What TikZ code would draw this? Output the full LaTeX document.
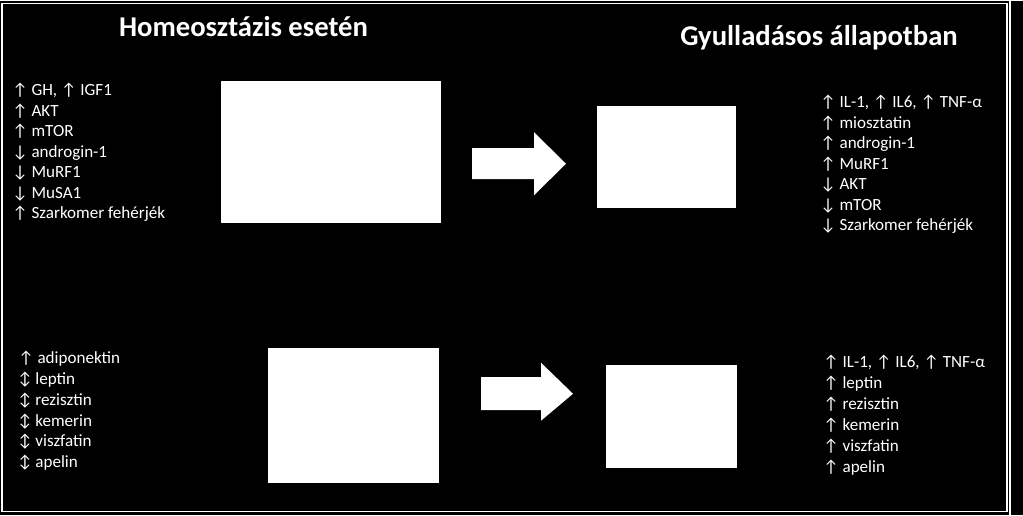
\documentclass[tikz,border=0pt]{standalone}
\usepackage{fontspec}
\setmainfont{Carlito}
\usetikzlibrary{positioning}

\begin{document}
\begin{tikzpicture}[x=0.75pt,y=-0.75pt,
  cim/.style={font=\fontsize{21.5}{24}\selectfont\bfseries,text=white,inner sep=0pt,anchor=base},
  sor/.style={font=\fontsize{12.8}{15}\selectfont,text=white,inner sep=0pt,anchor=base west},
  doboz/.style={fill=white,draw=none,inner sep=0pt},
  keret/.style={draw=white,line width=1.1pt}]
% background and frame
\fill[black] (0,0) rectangle (1023,514);
\draw[keret] (2,3) rectangle (1007,511);
\draw[keret] (1010,0) -- (1010,514);
% titles
\node[cim] (cim1) at (243.5,36) {Homeosztázis esetén};
\node[cim] (cim2) at (819,45) {Gyulladásos állapotban};
% picture placeholders
\node[doboz,minimum width=165pt,minimum height=106.5pt] (kep1) at (331,151) {};
\node[doboz,minimum width=104.25pt,minimum height=76.5pt] (kep2) at (666.5,156) {};
\node[doboz,minimum width=128.25pt,minimum height=101.25pt] (kep3) at (353.5,414.5) {};
\node[doboz,minimum width=98.25pt,minimum height=77.25pt] (kep4) at (671.5,415.5) {};
% block arrows
\fill[white] (472,147.5) -- (534,147.5) -- (534,131.5) -- (566,163) -- (534,194.5) -- (534,178.5) -- (472,178.5) -- cycle;
\fill[white] (481,376.5) -- (541,376.5) -- (541,362) -- (573,393) -- (541,420) -- (541,409.5) -- (481,409.5) -- cycle;
% lists
\foreach \t [count=\i] in {{↑ GH, ↑ IGF1},↑ AKT,↑ mTOR,↓ androgin-1,↓ MuRF1,↓ MuSA1,↑ Szarkomer fehérjék}
  \node[sor] (h\i) at (12,95+20.5*\i-20.5) {\t};
\foreach \t [count=\i] in {{↑ IL-1, ↑ IL6, ↑ TNF-α},↑ miosztatin,↑ androgin-1,↑ MuRF1,↓ AKT,↓ mTOR,↓ Szarkomer fehérjék}
  \node[sor] (g\i) at (820,107+20.5*\i-20.5) {\t};
\foreach \t [count=\i] in {↑ adiponektin,↕ leptin,↕ rezisztin,↕ kemerin,↕ viszfatin,↕ apelin}
  \node[sor] (a\i) at (18,363+20.8*\i-20.8) {\t};
\foreach \t [count=\i] in {{↑ IL-1, ↑ IL6, ↑ TNF-α},↑ leptin,↑ rezisztin,↑ kemerin,↑ viszfatin,↑ apelin}
  \node[sor] (b\i) at (823,367+21*\i-21) {\t};
\end{tikzpicture}
\end{document}
